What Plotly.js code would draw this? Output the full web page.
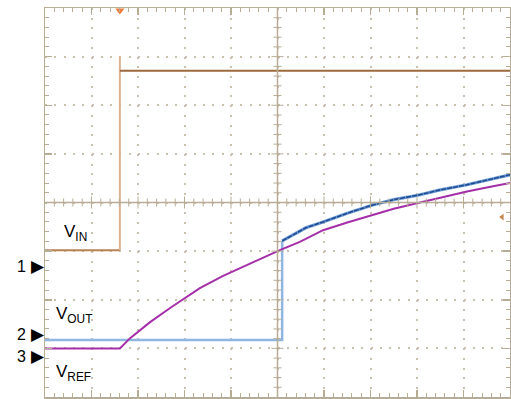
<!DOCTYPE html>
<html><head><meta charset="utf-8">
<script src="https://cdn.plot.ly/plotly-3.0.1.min.js"></script>
<style>html,body{margin:0;padding:0;background:#fff;}#chart{width:511px;height:399px;}</style>
</head><body><div id="chart"></div>
<script>
// Values in screen divisions (10 horizontal x 8 vertical, centre = 0)
const vinLowX  = [0, 1.61];
const vinLowY  = [-0.98, -0.98];
const vinEdgeX = [1.61, 1.61];
const vinEdgeY = [-0.98, 3.0];
const vinHighX = [1.61, 10];
const vinHighY = [2.71, 2.71];

const voutFlatX = [0, 5.10, 5.10];
const voutFlatY = [-2.83, -2.83, -0.79];
const voutRiseX = [5.10, 5.35, 5.61, 5.98, 6.50, 7.05, 7.50, 8.02, 8.50, 9.05, 9.50, 10];
const voutRiseY = [-0.79, -0.65, -0.52, -0.40, -0.22, -0.05, 0.06, 0.15, 0.26, 0.36, 0.46, 0.57];

const vrefX = [0, 1.61, 1.83, 2.26, 2.69, 2.95, 3.33, 3.83, 4.19, 5.05, 5.48, 5.98, 6.50, 7.05, 7.50, 8.02, 8.50, 9.05, 9.50, 10];
const vrefY = [-3.0, -3.0, -2.79, -2.46, -2.17, -2.00, -1.76, -1.51, -1.35, -0.98, -0.81, -0.57, -0.41, -0.26, -0.13, -0.01, 0.10, 0.22, 0.31, 0.40];

const channelLabels = ['1', '2', '3'];
const channelLevels = [-1.31, -2.71, -3.16];
const signalNames = ['V<sub>IN</sub>', 'V<sub>OUT</sub>', 'V<sub>REF</sub>'];
const signalNameX = [0.36, 0.19, 0.19];
const signalNameY = [-0.62, -2.32, -3.51];

const frame = '#b7ad95';
const gridC = '#c9c2b0';

const traces = [
  {x: vinLowX, y: vinLowY, mode: 'lines', line: {color: '#b98250', width: 2}},
  {x: vinEdgeX, y: vinEdgeY, mode: 'lines', line: {color: '#dcb392', width: 2}},
  {x: vinHighX, y: vinHighY, mode: 'lines', line: {color: '#9c6a3c', width: 2}},
  {x: voutFlatX, y: voutFlatY, mode: 'lines', line: {color: '#8fb6e2', width: 2.5}},
  {x: voutRiseX, y: voutRiseY, mode: 'lines', line: {color: '#6f9fd8', width: 3.2}},
  {x: voutRiseX, y: voutRiseY, mode: 'lines', line: {color: '#1f4a90', width: 1.6, dash: '5px,1px'}},
  {x: vrefX, y: vrefY, mode: 'lines', line: {color: '#a52fa8', width: 2}},
  {x: [1.61], y: [3.95], mode: 'markers', cliponaxis: false,
   marker: {symbol: 'triangle-down', size: 8, color: '#f07a3a'}},
  {x: [9.83], y: [-0.30], mode: 'markers', cliponaxis: false,
   marker: {symbol: 'triangle-left', size: 6, color: '#c48a52'}}
];

const shapes = [];
shapes.push({type: 'line', xref: 'x', yref: 'y', x0: 0, x1: 10, y0: 0, y1: 0, line: {color: frame, width: 1.5}});
shapes.push({type: 'line', xref: 'x', yref: 'y', x0: 5, x1: 5, y0: -4, y1: 4, line: {color: frame, width: 1.5}});
for (let i = 1; i < 50; i++) {
  const v = i / 5; const major = i % 5 === 0; const L = major ? 6 : 4;
  shapes.push({type: 'line', xref: 'x', yref: 'y', ysizemode: 'pixel', yanchor: 0,
    x0: v, x1: v, y0: -L, y1: L, line: {color: frame, width: 1}});
}
for (let i = 1; i < 40; i++) {
  const v = -4 + i / 5; const major = i % 5 === 0; const L = major ? 6 : 4;
  shapes.push({type: 'line', xref: 'x', yref: 'y', xsizemode: 'pixel', xanchor: 5,
    x0: -L, x1: L, y0: v, y1: v, line: {color: frame, width: 1}});
}

const annotations = [];
channelLabels.forEach((t, i) => {
  annotations.push({xref: 'paper', yref: 'y', x: -0.0495, y: channelLevels[i], text: t, showarrow: false,
    font: {size: 16, color: '#000'}, xanchor: 'center', yanchor: 'middle'});
  annotations.push({xref: 'paper', yref: 'y', x: -0.016, y: channelLevels[i], text: '\u25B6', showarrow: false,
    font: {size: 17, color: '#000', family: 'DejaVu Sans'}, xanchor: 'center', yanchor: 'middle'});
});
signalNames.forEach((t, i) => {
  annotations.push({xref: 'x', yref: 'y', x: signalNameX[i], y: signalNameY[i], text: t, showarrow: false,
    font: {size: 17, color: '#000'}, xanchor: 'left', yanchor: 'middle'});
});

const axisCommon = {
  showline: true, linecolor: frame, linewidth: 1.5, mirror: 'ticks',
  ticks: 'inside', ticklen: 7, tickcolor: frame, tickwidth: 1.5,
  showticklabels: false, zeroline: false, fixedrange: true,
  minor: {dtick: 0.2, ticks: 'inside', ticklen: 4, tickcolor: frame, tickwidth: 1, showgrid: false},
  gridcolor: gridC, gridwidth: 2
};

const layout = {
  width: 511, height: 399,
  margin: {l: 45, r: 1, t: 8, b: 2},
  paper_bgcolor: '#fff', plot_bgcolor: '#fff',
  showlegend: false,
  font: {family: 'Liberation Sans, Arial, sans-serif'},
  xaxis: Object.assign({}, axisCommon, {range: [0, 10], dtick: 1, tick0: 0, griddash: '2px,7.72px'}),
  yaxis: Object.assign({}, axisCommon, {range: [-4, 4], dtick: 1, tick0: 0, griddash: '2px,7.3px'}),
  shapes: shapes,
  annotations: annotations
};

Plotly.newPlot('chart', traces, layout, {staticPlot: true, displayModeBar: false});
</script>
</body></html>
